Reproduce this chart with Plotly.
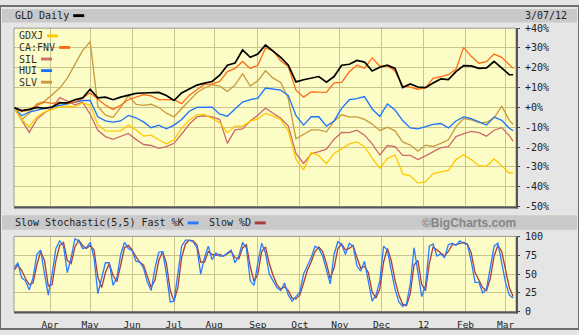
import pandas as pd
import plotly.graph_objects as go

# ---- trading sessions: 3/07/11 .. 3/07/12 (weekdays) ----
sessions = pd.bdate_range("2011-03-07", "2012-03-07")
main_idx = list(range(0, 261, 4)) + [262]        # every 4th session + last
stoch_idx = list(range(0, 263, 2))               # every 2nd session
main_dates = [sessions[i] for i in main_idx]
stoch_dates = [sessions[i] for i in stoch_idx]

# ---- % change since 3/07/11 ----
gld = [0, -1.6, -1.0, 0, -0.5, 0.2, 2.3, 2.3, 3.9, 4.8, 9.2, 4.8, 5.2, 3.9, 5.2, 6.3, 7.1,
       7.3, 7.3, 7.6, 6.0, 3.5, 7.3, 9.4, 11.3, 12.3, 13.1, 16.3, 21.3, 22.4, 29.0, 25.3,
       26.9, 31.5, 28.5, 25.3, 21.3, 12.9, 14.0, 14.8, 15.6, 12.7, 15.6, 21.3, 21.8, 23.7,
       22.9, 18.4, 20.3, 21.3, 19.7, 10.0, 11.9, 10.3, 10.0, 12.3, 14.4, 14.0, 18.1, 21.1,
       21.0, 19.7, 20.0, 23.2, 19.7, 16.5, 16.5]
fnv = [0, -2.1, -1.3, 1.1, 2.7, 2.1, 2.7, 1.9, 2.7, 4.7, 7.4, 4.4, 1.1, -1.0, 1.1, 3.9, 5.3,
       6.5, 5.8, 4.0, 4.0, 3.9, 1.9, 6.1, 8.9, 11.6, 11.9, 13.1, 18.1, 19.7, 23.2, 19.7,
       21.3, 30.0, 28.7, 23.5, 20.5, 8.7, 5.2, 7.9, 7.7, 7.6, 12.4, 12.6, 18.0, 21.3, 19.8,
       25.0, 20.8, 21.1, 18.4, 10.8, 10.3, 9.2, 10.0, 14.7, 15.6, 16.5, 19.2, 30.3, 25.8,
       22.3, 23.1, 26.9, 25.3, 21.3, 19.7]
slv = [0, -6.1, -2.9, 1.8, 3.1, 6.6, 9.8, 14.8, 22.1, 28.7, 33.2, 0.6, -3.9, -5.0, 0, 6.0,
       1.6, 1.1, 1.6, 0, -2.9, -4.8, -0.5, 3.2, 7.4, 9.8, 11.5, 10.8, 8.1, 11.3, 17.0, 10.8,
       13.5, 18.5, 14.8, 12.6, 4.4, -15.8, -13.5, -11.3, -11.3, -12.3, -6.9, -3.7, -4.8,
       -4.8, -6.0, -8.4, -11.6, -10.0, -11.8, -17.4, -19.0, -22.1, -19.0, -19.7, -18.1,
       -16.3, -9.8, -5.6, -6.3, -7.7, -7.6, -5.2, 0.6, -6.5, -8.5]
hui = [0, -4.2, -2.3, -1.3, -0.5, 0.2, 1.1, 1.9, 2.6, 3.5, 3.5, -4.7, -6.8, -7.4, -6.8, -4.0,
       -5.2, -7.3, -10.2, -8.9, -10.8, -8.9, -6.1, -1.9, 0, 0, 0.2, -3.4, -4.4, -0.8, 2.7,
       4.0, 4.7, 9.8, 9.2, 8.7, 6.0, -4.0, -8.9, -4.7, -4.7, -9.4, -6.8, -0.5, 3.9, 4.4, 5.5,
       -0.8, -4.5, 1.8, -1.3, -6.6, -10.3, -10.8, -9.7, -8.5, -8.1, -10.3, -6.8, -4.8, -5.6,
       -7.4, -8.9, -4.8, -6.5, -10.5, -11.8]
gdxj = [0, -6.1, -9.7, -4.7, -2.3, -1.1, 0.3, 0.6, 0.3, 2.3, 1.1, -8.7, -11.8, -11.9, -11.8,
        -8.9, -11.3, -14.5, -14.0, -16.3, -18.4, -16.3, -10.4, -6.5, -3.7, -3.5, -5.8, -7.7,
        -12.7, -9.4, -9.4, -6.9, -5.8, -2.9, -4.4, -6.1, -12.0, -26.1, -31.6, -22.7, -24.4,
        -28.4, -23.2, -20.6, -18.4, -17.4, -19.8, -25.6, -30.6, -25.8, -23.9, -33.5, -34.5,
        -38.2, -37.6, -33.4, -32.7, -31.8, -26.3, -23.9, -26.3, -29.4, -29.7, -26.0, -29.4,
        -33.2, -32.9]
sil = [0, -6.1, -12.6, -6.0, -2.7, -0.3, 5.0, 3.2, 1.3, 2.6, -3.4, -11.5, -14.7, -16.1,
       -14.8, -13.1, -16.1, -18.7, -19.2, -20.6, -19.8, -18.1, -13.4, -8.5, -4.8, -4.2, -4.7,
       -6.1, -18.1, -11.3, -10.8, -6.8, -3.9, -0.3, -2.9, -5.5, -9.4, -23.2, -28.2, -23.4,
       -22.3, -21.0, -16.0, -12.6, -12.7, -11.5, -14.0, -18.4, -24.0, -19.2, -19.8, -24.2,
       -24.2, -26.3, -24.4, -22.3, -20.3, -19.8, -14.7, -13.2, -12.1, -12.7, -14.5, -11.5,
       -10.2, -14.2, -17.1]

# ---- slow stochastic (5,5) of GLD ----
fast_k = [58, 65, 45, 41, 29, 45, 76, 82, 50, 22, 50, 84, 94, 87, 52, 72, 97, 94, 84, 85,
          92, 72, 24, 43, 65, 65, 35, 45, 76, 92, 84, 81, 67, 66, 58, 39, 28, 58, 79, 80,
          50, 13, 14, 50, 87, 95, 95, 93, 85, 50, 72, 87, 69, 78, 74, 74, 78, 82, 65, 74,
          92, 84, 41, 35, 65, 91, 78, 50,
          41, 32, 28, 38, 22, 14, 20, 26, 50, 62, 72, 87, 84, 74, 56, 37, 76, 93, 89, 76,
          91, 87, 61, 54, 67, 41, 14, 22, 41, 87, 82, 55, 30, 13, 7, 10, 37, 85, 52, 20,
          35, 87, 90, 74, 77, 72, 89, 91, 88, 94, 91, 89, 67, 39, 39, 25, 30, 58, 87, 91,
          67, 39, 22, 18]
slow_d = [55, 62, 55, 44, 36, 38, 62, 80, 68, 34, 36, 68, 88, 92, 68, 64, 86, 95, 88, 84,
          88, 82, 46, 32, 52, 64, 48, 40, 62, 85, 88, 82, 73, 66, 62, 48, 32, 42, 68, 80,
          64, 28, 14, 32, 72, 90, 95, 94, 89, 66, 66, 80, 76, 75, 76, 74, 77, 80, 72, 70,
          85, 89, 60, 40, 50, 80, 86, 64,
          48, 36, 30, 33, 28, 18, 17, 22, 38, 55, 66, 80, 86, 80, 64, 44, 58, 84, 90, 82,
          84, 88, 72, 58, 60, 52, 26, 18, 30, 66, 84, 68, 42, 22, 10, 8, 24, 62, 68, 36,
          28, 64, 86, 82, 78, 74, 80, 89, 89, 91, 92, 90, 78, 52, 42, 32, 28, 44, 74, 88,
          80, 54, 32, 20]

month_ticks = ["2011-04-01", "2011-05-02", "2011-06-01", "2011-07-01", "2011-08-01",
               "2011-09-01", "2011-10-03", "2011-11-01", "2011-12-01", "2012-01-02",
               "2012-02-01", "2012-03-01"]
month_text = ["Apr", "May", "Jun", "Jul", "Aug", "Sep", "Oct", "Nov", "Dec", "12", "Feb", "Mar"]
pct_ticks = [40, 30, 20, 10, 0, -10, -20, -30, -40, -50]
pct_text = ["+40%", "+30%", "+20%", "+10%", "+0%", "-10%", "-20%", "-30%", "-40%", "-50%"]
stoch_ticks = [0, 25, 50, 75, 100]

W, H = 579, 335
MONO = "DejaVu Sans Mono"
C_GDXJ, C_FNV, C_SIL, C_HUI, C_SLV = "#ffc800", "#ff6a14", "#cc6b6b", "#1a73ff", "#c99a3c"
C_K, C_D = "#2a7cff", "#a83c3c"
GRID = "#cbc38c"
PLOT_BG = "#fcfcc6"


def px(x):
    return x / W


def py(y):
    return 1 - y / H


fig = go.Figure()
series = [("SLV", slv, C_SLV), ("HUI", hui, C_HUI), ("SIL", sil, C_SIL),
          ("CA:FNV", fnv, C_FNV), ("GDXJ", gdxj, C_GDXJ)]
for name, vals, col in series:
    fig.add_trace(go.Scatter(x=main_dates, y=vals, name=name, mode="lines",
                             line=dict(color=col, width=1.3), xaxis="x", yaxis="y"))
fig.add_trace(go.Scatter(x=main_dates, y=gld, name="GLD", mode="lines",
                         line=dict(color="#000000", width=1.7), xaxis="x", yaxis="y"))
fig.add_trace(go.Scatter(x=stoch_dates, y=slow_d, name="Slow %D", mode="lines",
                         line=dict(color=C_D, width=1.3), xaxis="x2", yaxis="y2"))
fig.add_trace(go.Scatter(x=stoch_dates, y=fast_k, name="Fast %K", mode="lines",
                         line=dict(color=C_K, width=1.3), xaxis="x2", yaxis="y2"))

x_dom = [px(14), px(516)]
x_range = ["2011-03-07", "2012-03-08 12:00"]
breaks = [dict(bounds=["sat", "mon"])]
common_x = dict(domain=x_dom, range=x_range, rangebreaks=breaks, tickmode="array",
                tickvals=month_ticks, ticktext=month_text, showgrid=True, gridcolor=GRID,
                gridwidth=1, showline=False, zeroline=False, fixedrange=True)
right_y = dict(side="right", tickmode="array", ticks="outside", ticklen=3,
               tickcolor="#444444", ticklabelstandoff=3, showgrid=True, gridcolor=GRID,
               zeroline=False, showline=False,
               tickfont=dict(family=MONO, size=10, color="#222222"))

fig.update_layout(
    width=W, height=H, margin=dict(l=0, r=0, t=0, b=0),
    paper_bgcolor="#e5e5e5", plot_bgcolor=PLOT_BG, showlegend=False,
    font=dict(family=MONO, size=10, color="#333333"),
    xaxis=dict(**common_x, anchor="y", showticklabels=False, ticks=""),
    yaxis=dict(**right_y, domain=[py(208), py(23)], range=[-50, 40], anchor="x",
               tickvals=pct_ticks, ticktext=pct_text),
    xaxis2=dict(**common_x, anchor="y2", matches="x", showticklabels=True, ticks="",
                ticklabelstandoff=6,
                tickfont=dict(family=MONO, size=9.5, color="#222222")),
    yaxis2=dict(**right_y, domain=[py(317), py(239)], range=[0, 100], anchor="x2",
                tickvals=stoch_ticks),
)

shapes = []
# header bands
for y0, y1 in [(3, 17), (217, 232)]:
    shapes.append(dict(type="rect", xref="paper", yref="paper", x0=px(2), x1=px(577),
                       y0=py(y1), y1=py(y0), fillcolor="#c9c9c9", line=dict(width=0),
                       layer="below"))
# plot frames with a dark shadow on bottom/right
for top, bot in [(23, 208), (239, 317)]:
    shapes.append(dict(type="rect", xref="paper", yref="paper", x0=px(14), x1=px(516),
                       y0=py(bot), y1=py(top), line=dict(color="#9a9a9a", width=1)))
    shapes.append(dict(type="line", xref="paper", yref="paper", x0=px(14), x1=px(518),
                       y0=py(bot + 1), y1=py(bot + 1), line=dict(color="#555555", width=2)))
    shapes.append(dict(type="line", xref="paper", yref="paper", x0=px(517), x1=px(517),
                       y0=py(bot + 2), y1=py(top), line=dict(color="#555555", width=2)))
# outer border
shapes.append(dict(type="rect", xref="paper", yref="paper", x0=0, x1=1, y0=0, y1=1,
                   line=dict(color="#6e6e6e", width=2)))

annotations = []


def label(x, y, text, color="#222222", size=10, family=MONO, anchor="left"):
    annotations.append(dict(xref="paper", yref="paper", x=px(x), y=py(y), text=text,
                            showarrow=False, xanchor=anchor, yanchor="middle",
                            font=dict(family=family, size=size, color=color),
                            borderpad=0, borderwidth=0))


def swatch(x, y, color, w=11, h=3):
    shapes.append(dict(type="rect", xref="paper", yref="paper", x0=px(x), x1=px(x + w),
                       y0=py(y + h / 2), y1=py(y - h / 2), fillcolor=color,
                       line=dict(width=0)))


CH = 6.02  # character advance of the 10px mono font
label(15, 10, "GLD Daily")
swatch(15 + 9 * CH + 4, 10, "#000000")
label(567, 10, "3/07/12", anchor="right")

legend_rows = [("GDXJ", C_GDXJ, 31), ("CA:FNV", C_FNV, 43), ("SIL", C_SIL, 55),
               ("HUI", C_HUI, 67), ("SLV", C_SLV, 79)]
for name, col, y in legend_rows:
    label(19, y, name, color="#333333")
    swatch(19 + len(name) * CH + 4, y, col)

head = "Slow Stochastic(5,5) Fast %K"
label(15, 225, head)
swatch(15 + len(head) * CH + 4, 225, C_K)
x_d = 15 + len(head) * CH + 4 + 11 + 10
label(x_d, 225, "Slow %D")
swatch(x_d + 7 * CH + 4, 225, C_D)
label(516, 225, "<b>©BigCharts.com</b>", color="#858585", size=12,
      family="Liberation Sans", anchor="right")

fig.update_layout(shapes=shapes, annotations=annotations)
fig.write_html("out.html")
